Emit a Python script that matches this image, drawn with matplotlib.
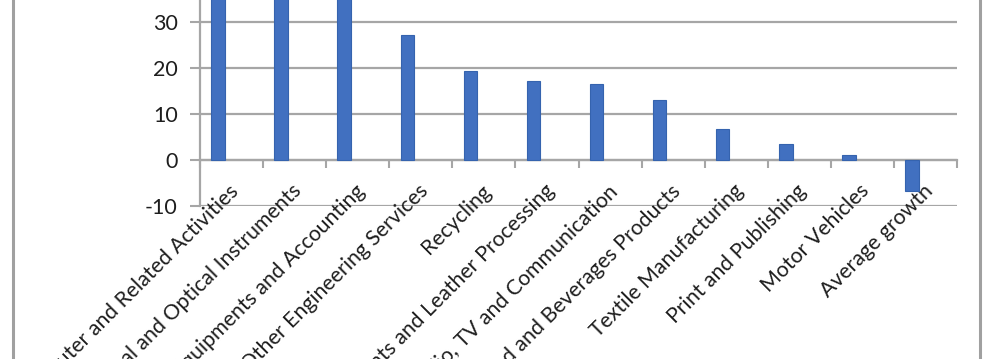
import matplotlib
matplotlib.use("Agg")
import matplotlib.pyplot as plt
import matplotlib.transforms as mtransforms
import numpy as np
from matplotlib.lines import Line2D

categories = [
    "Computer and Related Activities",
    "Medical and Optical Instruments",
    "Office Equipments and Accounting",
    "Architectural and Other Engineering Services",
    "Recycling",
    "Garments and Leather Processing",
    "Radio, TV and Communication",
    "Food and Beverages Products",
    "Textile Manufacturing",
    "Print and Publishing",
    "Motor Vehicles",
    "Average growth",
]
growth = [52, 46, 41, 27.1, 19.3, 17.2, 16.6, 13.1, 6.7, 3.5, 1.1, -6.8]
yticks = [-10, 0, 10, 20, 30]

plt.rcParams['font.family'] = ['Lato', 'DejaVu Sans']

fig = plt.figure(figsize=(10, 3.59), dpi=100)
H = 359.0
ax = fig.add_axes([0.200, (H - 206) / H, 0.757, 230 / H])

ax.spines['bottom'].set_position(('data', 0))
ax.spines['bottom'].set_color('#A6A6A6')
ax.spines['bottom'].set_linewidth(1.6)
ax.spines['left'].set_color('#A6A6A6')
ax.spines['left'].set_linewidth(1.6)
ax.spines['top'].set_visible(False)
ax.spines['right'].set_visible(False)

n = len(categories)
x = np.arange(n)
ax.bar(x - 0.214, growth, width=0.214, color='#4170C0', edgecolor='#3563AE', linewidth=0.8, zorder=3)

ax.set_xlim(-0.5, n - 0.5)
ax.set_ylim(-10, 40)
ax.set_yticks(yticks)
ax.set_yticklabels([str(v) for v in yticks], fontsize=15.5, color='#1E1E1E')
ax.tick_params(axis='y', length=7, width=1.5, color='#A6A6A6', pad=9)
for v in yticks + [40]:
    ax.axhline(v, color='#A6A6A6', linewidth=1.6, zorder=1)

ax.set_xticks(x)
ax.set_xticks(np.arange(n + 1) - 0.5, minor=True)
ax.tick_params(axis='x', which='major', length=0, pad=15)
ax.tick_params(axis='x', which='minor', length=6, width=1.5, color='#A6A6A6', direction='out')
ax.set_xticklabels(categories, rotation=45, ha='right', rotation_mode='anchor', fontsize=15.3, color='#1E1E1E')
shift = mtransforms.ScaledTranslation(-3 / 100, 0, fig.dpi_scale_trans)
for lbl in ax.get_xticklabels():
    lbl.set_transform(lbl.get_transform() + shift)

fig.add_artist(Line2D([13 / 1000, 13 / 1000], [0, 1], color='#A0A0A0', linewidth=2.2))
fig.add_artist(Line2D([980 / 1000, 980 / 1000], [0, 1], color='#A0A0A0', linewidth=2.2))

fig.savefig("out.png", dpi=100)
